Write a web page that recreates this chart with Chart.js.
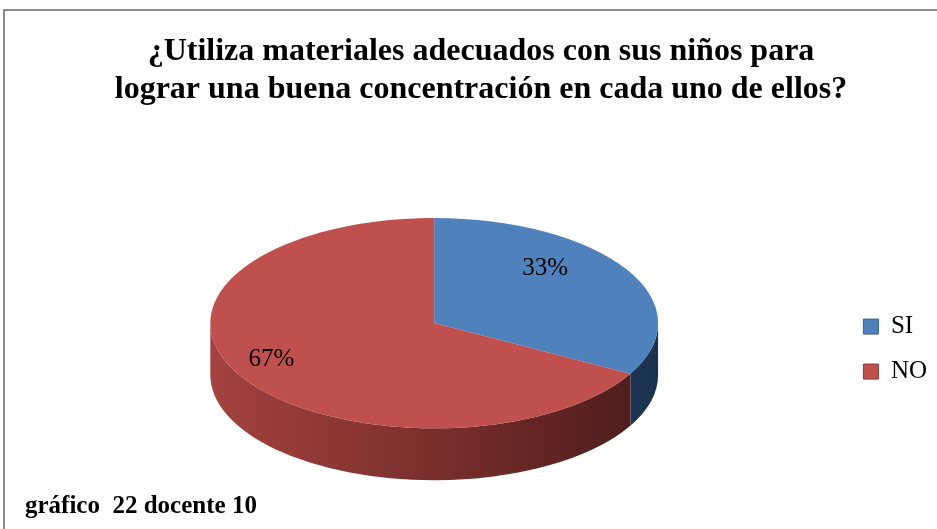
<!DOCTYPE html>
<html lang="es">
<head>
    <meta charset="UTF-8">
    <title>gráfico 22 docente 10</title>
    <style>
        html, body { margin: 0; padding: 0; background: #ffffff; overflow: hidden; }
        .frame {
            position: absolute; left: 3px; top: 9px;
            width: 1000px; height: 600px;
            border: 2px solid #8a8a8a;
        }
        #myChart { position: absolute; left: 0; top: 0; }
    </style>
</head>
<body>
    <div class="frame"></div>
    <canvas id="myChart" width="937" height="529"></canvas>

    <script src="https://cdn.jsdelivr.net/npm/chart.js"></script>
    <script>
        // datos del gráfico
        const categories = ['SI', 'NO'];
        const values = [33, 67];
        const topColors = ['#4F81BD', '#C0504D'];
        const boxEdges = ['#385D8A', '#8C3836'];
        const titleLines = ['¿Utiliza materiales adecuados con sus niños para',
                            'lograr una buena concentración en cada uno de ellos?'];
        const footerText = 'gráfico  22 docente 10';

        // forma del pastel 3D
        const STRETCH = 1.60;   // ancho de la elipse / radio del círculo
        const TILT = 0.47;      // alto / ancho de la elipse
        const DEPTH = 0.232;    // grosor / radio horizontal

        const sideGradients = [
            ['#2b4a73', '#1c3350'],
            ['#a4423f', '#7a2f2d', '#4a1b1b']
        ];

        function geometry(chart) {
            const arc = chart.getDatasetMeta(0).data[0];
            const rx = arc.outerRadius * STRETCH;
            const ry = rx * TILT;
            const depth = rx * DEPTH;
            return { arc, rx, ry, depth, ex: arc.x, ey: arc.y - depth / 2 };
        }

        const pie3d = {
            id: 'pie3d',
            beforeDatasetsDraw(chart) {
                const ctx = chart.ctx;
                const g = geometry(chart);
                const arcs = chart.getDatasetMeta(0).data;
                // pared lateral (solo la mitad inferior es visible)
                arcs.forEach((a, i) => {
                    const a1 = Math.max(a.startAngle, 0);
                    const a2 = Math.min(a.endAngle, Math.PI);
                    if (a2 <= a1) return;
                    const grad = ctx.createLinearGradient(g.ex - g.rx, 0, g.ex + g.rx, 0);
                    const stops = sideGradients[i];
                    stops.forEach((c, k) => grad.addColorStop(k / (stops.length - 1), c));
                    ctx.beginPath();
                    ctx.ellipse(g.ex, g.ey, g.rx, g.ry, 0, a1, a2);
                    ctx.ellipse(g.ex, g.ey + g.depth, g.rx, g.ry, 0, a2, a1, true);
                    ctx.closePath();
                    ctx.fillStyle = grad;
                    ctx.fill();
                });
                // la cara superior la dibuja Chart.js, aplastada en elipse
                ctx.save();
                ctx.translate(g.ex, g.ey);
                ctx.scale(g.rx / g.arc.outerRadius, g.ry / g.arc.outerRadius);
                ctx.translate(-g.arc.x, -g.arc.y);
            },
            afterDatasetsDraw(chart) {
                const ctx = chart.ctx;
                ctx.restore();
                const g = geometry(chart);
                const arcs = chart.getDatasetMeta(0).data;
                const total = values.reduce((s, v) => s + v, 0);
                ctx.save();
                ctx.font = '25px "Liberation Serif"';
                ctx.fillStyle = '#000000';
                ctx.textAlign = 'center';
                ctx.textBaseline = 'middle';
                arcs.forEach((a, i) => {
                    const mid = (a.startAngle + a.endAngle) / 2;
                    const lx = g.ex - 0.116 * g.rx + 0.71 * g.rx * Math.cos(mid);
                    const ly = g.ey - 0.09 * g.ry + 0.85 * g.ry * Math.sin(mid);
                    ctx.fillText(Math.round(values[i] / total * 100) + '%', lx, ly);
                });
                ctx.restore();
            }
        };

        const data = {
            labels: categories,
            datasets: [{
                data: values,
                backgroundColor: topColors,
                borderWidth: 0,
                hoverOffset: 0
            }]
        };

        const config = {
            type: 'pie',
            data: data,
            options: {
                responsive: false,
                animation: false,
                devicePixelRatio: 1,
                layout: { padding: { left: 25, right: 0, top: 12, bottom: 7 } },
                plugins: {
                    tooltip: { enabled: false },
                    title: {
                        display: true,
                        text: titleLines,
                        color: '#000000',
                        font: { family: 'Liberation Serif', size: 32, weight: 'bold', lineHeight: 1.19 },
                        padding: { top: 21, bottom: 100 }
                    },
                    subtitle: {
                        display: true,
                        text: footerText,
                        position: 'bottom',
                        align: 'start',
                        color: '#000000',
                        font: { family: 'Liberation Serif', size: 25, weight: 'bold', lineHeight: 1.2 },
                        padding: { top: 3, bottom: 0 }
                    },
                    legend: {
                        position: 'right',
                        fullSize: false,
                        labels: {
                            color: '#000000',
                            boxWidth: 15,
                            boxHeight: 15,
                            padding: 20,
                            font: { family: 'Liberation Serif', size: 25 },
                            generateLabels(chart) {
                                const items = Chart.overrides.pie.plugins.legend.labels.generateLabels(chart);
                                items.forEach((it, i) => {
                                    it.strokeStyle = boxEdges[i];
                                    it.lineWidth = 1;
                                });
                                return items;
                            }
                        }
                    }
                }
            },
            plugins: [pie3d]
        };

        const myChart = new Chart(document.getElementById('myChart'), config);
    </script>
</body>
</html>
